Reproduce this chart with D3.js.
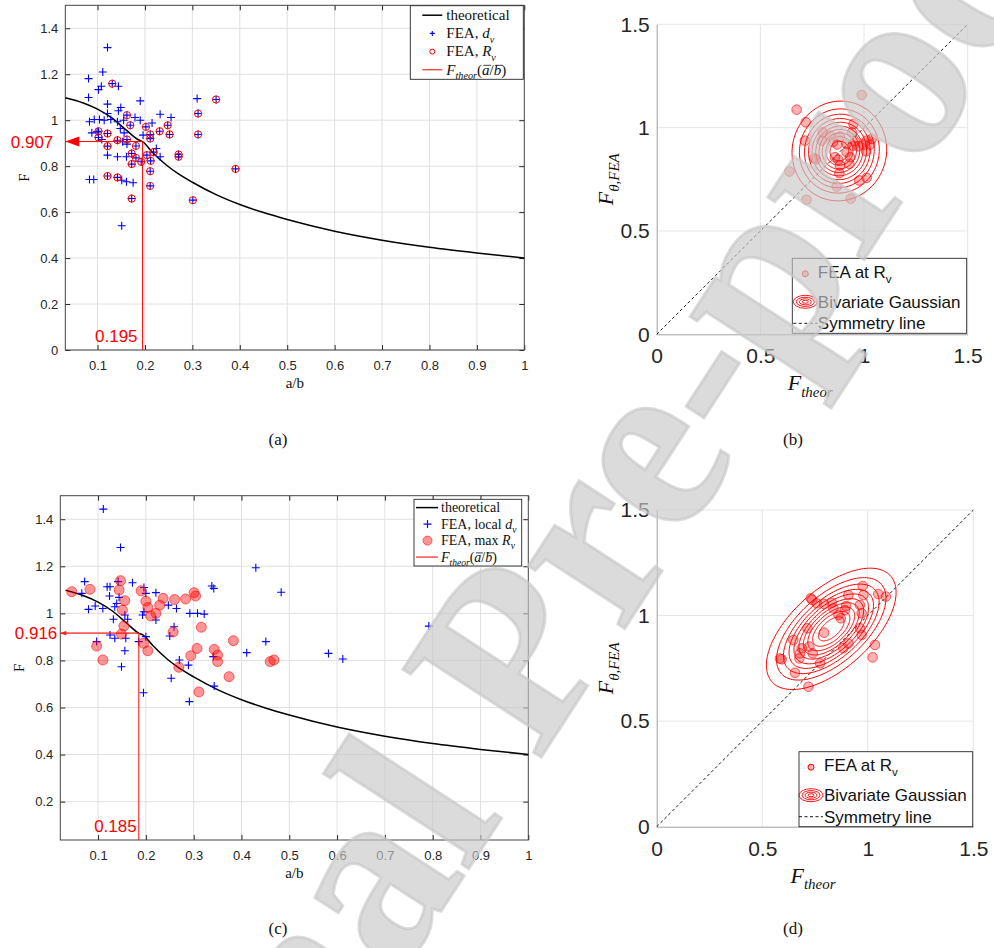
<!DOCTYPE html>
<html lang="en">
<head>
<meta charset="utf-8">
<title>F vs a/b, FEA vs theory</title>
<script src="https://d3js.org/d3.v7.min.js"></script>
<style>
    body { margin: 0; background: #fff; }
    svg { display: block; }
</style>
</head>
<body>
<svg id="fig" width="994" height="948"></svg>
<script>
    // theoretical curve F(a/b)
    const abTheor = [0.032, 0.07, 0.1, 0.13, 0.16, 0.185, 0.195, 0.215, 0.245, 0.27, 0.3, 0.35, 0.4, 0.45, 0.5, 0.6, 0.7, 0.8, 0.9, 1.0];
    const fTheor  = [1.098, 1.075, 1.048, 1.01, 0.958, 0.916, 0.907, 0.862, 0.805, 0.767, 0.73, 0.676, 0.633, 0.598, 0.568, 0.517, 0.478, 0.447, 0.422, 0.400];

    // panel (a): FEA at R_v (circles, also carry a d_v plus) and d_v only
    const aRv = [[0.131,1.159],[0.162,1.022],[0.169,0.978],[0.102,0.952],[0.102,0.925],[0.121,0.942],[0.142,0.913],[0.162,0.916],
        [0.121,0.887],[0.181,0.888],[0.172,0.855],[0.172,0.809],[0.181,0.836],[0.192,0.819],[0.202,0.971],[0.211,0.938],[0.211,0.920],
        [0.204,0.848],[0.212,0.823],[0.218,0.861],[0.211,0.778],[0.211,0.714],[0.231,0.952],[0.248,0.978],[0.252,0.938],[0.271,0.851],
        [0.271,0.841],[0.312,1.029],[0.312,0.938],[0.350,1.090],[0.301,0.652],[0.391,0.788],[0.121,0.757],[0.142,0.751],[0.172,0.659]];
    const aDv = [[0.121,1.316],[0.111,1.210],[0.081,1.181],[0.102,1.133],[0.108,1.148],[0.144,1.148],[0.081,1.099],[0.121,1.070],
        [0.149,1.055],[0.144,1.041],[0.121,1.029],[0.232,1.026],[0.255,1.012],[0.190,1.084],[0.310,1.094],[0.083,0.993],[0.093,1.003],
        [0.104,1.003],[0.114,1.000],[0.128,1.003],[0.142,0.993],[0.155,1.000],[0.179,1.012],[0.190,1.000],[0.215,0.988],[0.088,0.945],
        [0.099,0.949],[0.148,0.964],[0.156,0.945],[0.196,0.935],[0.109,0.916],[0.153,0.906],[0.162,0.896],[0.121,0.848],[0.142,0.841],
        [0.161,0.841],[0.224,0.877],[0.232,0.841],[0.083,0.742],[0.092,0.742],[0.151,0.739],[0.161,0.732],[0.175,0.728],[0.151,0.541]];
    const aMean = [0.195, 0.907];

    // panel (c): FEA local d_v and max R_v
    const cDv = [[0.111,1.443],[0.147,1.280],[0.072,1.135],[0.066,1.085],[0.080,1.017],[0.094,1.031],[0.110,1.021],[0.119,1.113],
        [0.125,1.113],[0.124,1.074],[0.135,1.028],[0.139,1.042],[0.144,1.068],[0.142,1.135],[0.132,0.975],[0.156,0.993],[0.162,0.975],
        [0.158,0.894],[0.156,0.841],[0.149,0.773],[0.135,0.894],[0.125,0.908],[0.097,0.880],[0.172,1.130],[0.196,1.110],[0.200,1.085],
        [0.193,0.993],[0.196,1.007],[0.200,0.901],[0.185,0.880],[0.195,0.663],[0.221,1.088],[0.221,0.972],[0.247,1.035],[0.264,1.021],
        [0.259,0.943],[0.250,0.904],[0.253,0.724],[0.270,0.802],[0.289,0.780],[0.291,0.625],[0.292,1.000],[0.308,1.000],[0.322,0.997],
        [0.338,1.116],[0.342,1.106],[0.341,0.816],[0.343,0.691],[0.411,0.833],[0.430,1.194],[0.451,0.880],[0.483,1.090],[0.582,0.830],
        [0.612,0.806],[0.792,0.946]];
    const cRv = [[0.045,1.092],[0.083,1.102],[0.147,1.139],[0.144,1.099],[0.156,1.054],[0.151,1.014],[0.154,0.946],[0.149,0.912],
        [0.097,0.861],[0.110,0.802],[0.190,1.096],[0.200,1.052],[0.204,1.025],[0.210,0.989],[0.221,1.000],[0.229,1.035],[0.236,1.064],
        [0.260,1.059],[0.283,1.061],[0.301,1.088],[0.304,1.074],[0.316,0.941],[0.195,0.873],[0.204,0.841],[0.257,0.921],[0.269,0.771],
        [0.294,0.820],[0.307,0.851],[0.311,0.666],[0.343,0.847],[0.350,0.823],[0.350,0.795],[0.374,0.731],[0.383,0.884],[0.460,0.795],
        [0.468,0.802]];
    const cMean = [0.185, 0.916];

    // panels (b), (d): F_theor vs F_FEA and fitted bivariate gaussian
    const bPts = [[0.989,1.158],[0.675,1.087],[0.719,1.026],[0.640,0.788],[0.723,0.651],[0.936,0.656],[0.868,0.715],[0.977,0.744],
        [1.013,0.757],[0.715,0.937],[0.768,0.846],[0.760,0.852],[0.801,0.977],[0.796,0.937],[0.836,0.961],[0.884,0.957],[0.871,0.918],
        [0.949,1.018],[0.941,0.977],[0.916,0.921],[0.949,0.913],[0.973,0.910],[0.997,0.918],[1.029,0.918],[1.037,0.945],[1.013,0.937],
        [1.010,0.886],[0.860,0.857],[0.876,0.844],[0.884,0.817],[0.881,0.780],[0.932,0.857],[0.929,0.825],[0.916,0.881],[0.955,0.935],
        [0.850,0.930]];
    const dPts = [[0.976,1.140],[0.979,1.097],[0.908,1.097],[1.050,1.102],[1.086,1.090],[0.730,1.082],[0.737,1.074],[0.758,1.058],
        [0.793,1.055],[0.829,1.061],[0.837,1.034],[0.897,1.045],[0.892,1.026],[0.963,1.050],[0.971,1.011],[0.861,1.003],[0.872,0.987],
        [0.793,0.919],[0.714,0.940],[0.963,0.940],[0.971,0.908],[0.647,0.884],[0.687,0.845],[0.723,0.853],[0.679,0.821],[0.676,0.797],
        [0.739,0.821],[0.584,0.797],[0.592,0.793],[0.774,0.774],[0.655,0.729],[0.719,0.663],[0.884,0.845],[0.908,0.868],[1.034,0.861],
        [1.023,0.802]];
    const bGauss = { mean: [0.881, 0.887], sigma: [0.104, 0.110], rho: 0.03 };
    const dGauss = { mean: [0.827, 0.937], sigma: [0.140, 0.131], rho: 0.60 };
    const gaussLevels = [0.09, 0.18, 0.27, 0.36, 0.45, 0.55, 0.64, 0.73, 0.82, 0.91]; // fraction of peak density

    const abTicks = [0.1, 0.2, 0.3, 0.4, 0.5, 0.6, 0.7, 0.8, 0.9, 1];
    const fTicksA = [0, 0.2, 0.4, 0.6, 0.8, 1, 1.2, 1.4];
    const fTicksC = [0.2, 0.4, 0.6, 0.8, 1, 1.2, 1.4];
    const sqTicks = [0, 0.5, 1, 1.5];

    const SANS = "'Liberation Sans', Arial, Helvetica, sans-serif";
    const SERIF = "'Liberation Serif', 'Times New Roman', serif";
    const INK = "#262626";
    const fmt = d3.format("~g");
    const svg = d3.select("#fig");

    // text with italic / subscript / overline pieces
    function richText(g, x, y, parts, size, family, anchor) {
        const t = g.append("text").attr("x", x).attr("y", y)
            .style("font-family", family).attr("font-size", size)
            .attr("fill", "#111").attr("text-anchor", anchor || "start");
        let shift = 0;
        const bars = [];
        parts.forEach(p => {
            const want = p.sub ? size * 0.3 : 0;
            const ts = t.append("tspan").text(p.t).attr("dy", want - shift);
            shift = want;
            if (p.sub) ts.attr("font-size", size * 0.68);
            if (p.it) ts.attr("font-style", "italic");
            if (p.over) bars.push(ts);
        });
        // bar over a letter, drawn as a short line just above x-height
        bars.forEach(ts => {
            const n = ts.node();
            const s = n.getStartPositionOfChar(0), e = n.getEndPositionOfChar(0);
            g.append("line").attr("x1", s.x + 1.5).attr("x2", e.x + 1.5)
                .attr("y1", s.y - size * 0.62).attr("y2", s.y - size * 0.62)
                .attr("stroke", "#111").attr("stroke-width", 0.8);
        });
        return t;
    }

    function plus(sel, x, y, data, arm, color) {
        sel.append("g").selectAll("path").data(data).join("path")
            .attr("d", d => `M${x(d[0]) - arm},${y(d[1])}H${x(d[0]) + arm}M${x(d[0])},${y(d[1]) - arm}V${y(d[1]) + arm}`)
            .attr("stroke", color).attr("stroke-width", 1.1).attr("fill", "none");
    }

    // ---------- ratio panels (a) and (c) ----------
    function ratioPanel(box, xDom, yDom, yTicks, dv, rv, mean, filled) {
        const x = d3.scaleLinear().domain(xDom).range([box.l, box.r]);
        const y = d3.scaleLinear().domain(yDom).range([box.b, box.t]);
        const g = svg.append("g");

        g.append("g").selectAll("line").data(abTicks.filter(v => v < 1)).join("line")
            .attr("x1", d => x(d)).attr("x2", d => x(d)).attr("y1", box.t).attr("y2", box.b)
            .attr("stroke", "#e0e0e0");
        g.append("g").selectAll("line").data(yTicks).join("line")
            .attr("x1", box.l).attr("x2", box.r).attr("y1", d => y(d)).attr("y2", d => y(d))
            .attr("stroke", "#e0e0e0");

        const styleAxis = a => { a.select(".domain").remove(); a.selectAll("line").attr("stroke", INK);
            a.selectAll("text").attr("fill", INK).style("font-family", SANS).attr("font-size", 13); };
        g.append("g").attr("transform", `translate(0,${box.b})`)
            .call(d3.axisBottom(x).tickValues(abTicks).tickFormat(fmt).tickSizeInner(-5).tickSizeOuter(0).tickPadding(11)).call(styleAxis);
        g.append("g").attr("transform", `translate(0,${box.t})`)
            .call(d3.axisTop(x).tickValues(abTicks).tickFormat("").tickSizeInner(-5).tickSizeOuter(0)).call(styleAxis);
        g.append("g").attr("transform", `translate(${box.l},0)`)
            .call(d3.axisLeft(y).tickValues(yTicks).tickFormat(fmt).tickSizeInner(-5).tickSizeOuter(0).tickPadding(7)).call(styleAxis);
        g.append("g").attr("transform", `translate(${box.r},0)`)
            .call(d3.axisRight(y).tickValues(yTicks).tickFormat("").tickSizeInner(-5).tickSizeOuter(0)).call(styleAxis);
        g.append("rect").attr("x", box.l).attr("y", box.t).attr("width", box.r - box.l).attr("height", box.b - box.t)
            .attr("fill", "none").attr("stroke", "#444").attr("stroke-width", 1);

        // theoretical curve
        g.append("path").datum(d3.zip(abTheor, fTheor))
            .attr("d", d3.line().x(d => x(d[0])).y(d => y(d[1])).curve(d3.curveMonotoneX))
            .attr("fill", "none").attr("stroke", "#000").attr("stroke-width", 1.5);

        // FEA points
        if (filled) {
            plus(g, x, y, dv, 4, "#0000ff");
            g.append("g").selectAll("circle").data(rv).join("circle")
                .attr("cx", d => x(d[0])).attr("cy", d => y(d[1])).attr("r", 5)
                .attr("fill", "#ff0000").attr("fill-opacity", 0.42)
                .attr("stroke", "#ff0000").attr("stroke-opacity", 0.55);
        } else {
            plus(g, x, y, dv.concat(rv), 4, "#0000ff");
            g.append("g").selectAll("circle").data(rv).join("circle")
                .attr("cx", d => x(d[0])).attr("cy", d => y(d[1])).attr("r", 3.6)
                .attr("fill", "none").attr("stroke", "#ff0000").attr("stroke-width", 1);
        }

        // mean a/b marker
        const red = g.append("g").attr("stroke", "#ff0000").attr("fill", "#ff0000")
            .attr("stroke-opacity", filled ? 0.65 : 1).attr("fill-opacity", filled ? 0.75 : 1);
        red.append("line").attr("x1", x(mean[0])).attr("x2", x(mean[0])).attr("y1", box.b).attr("y2", y(mean[1]))
            .attr("stroke-width", filled ? 1.6 : 1);
        red.append("line").attr("x1", box.l).attr("x2", x(mean[0])).attr("y1", y(mean[1])).attr("y2", y(mean[1]))
            .attr("stroke-width", filled ? 1.6 : 1);
        const ah = filled ? [6, 2.5] : [14, 5];
        red.append("path").attr("stroke", "none")
            .attr("d", `M${box.l},${y(mean[1])}L${box.l + ah[0]},${y(mean[1]) - ah[1]}L${box.l + ah[0]},${y(mean[1]) + ah[1]}Z`);
        g.append("text").attr("x", box.l - (filled ? 3 : 12)).attr("y", y(mean[1]) + 6).attr("text-anchor", "end")
            .style("font-family", SANS).attr("font-size", 17).attr("fill", "#ff0000").text(d3.format(".3f")(mean[1]));
        g.append("text").attr("x", x(mean[0]) - (filled ? 2 : 5)).attr("y", box.b - 8).attr("text-anchor", "end")
            .style("font-family", SANS).attr("font-size", 17).attr("fill", "#ff0000").text(d3.format(".3f")(mean[0]));

        // axis labels
        g.append("text").attr("x", (box.l + box.r) / 2).attr("y", box.b + 38).attr("text-anchor", "middle")
            .style("font-family", SERIF).attr("font-size", 15).attr("fill", "#111").text("a/b");
        g.append("text").attr("transform", `translate(${box.l - 36},${(box.t + box.b) / 2}) rotate(-90)`)
            .attr("text-anchor", "middle").style("font-family", SERIF).attr("font-size", 15).attr("fill", "#111").text("F");
        return g;
    }

    function ratioLegend(g, lg, rows, filled) {
        g.append("rect").attr("x", lg.x).attr("y", lg.y).attr("width", lg.w).attr("height", lg.h)
            .attr("fill", "#fff").attr("stroke", INK).attr("stroke-width", 0.9);
        const lx = lg.x + lg.lx, mx = lg.x + lg.mx, tx = lg.x + lg.tx;
        rows.forEach((r, i) => {
            const cy = lg.y + lg.r0 + i * lg.dy;
            if (i === 0) g.append("line").attr("x1", lx).attr("x2", lx + lg.len).attr("y1", cy).attr("y2", cy).attr("stroke", "#000").attr("stroke-width", 1.5);
            if (i === 1) { const a = filled ? 4 : 2.5; g.append("path").attr("d", `M${mx - a},${cy}H${mx + a}M${mx},${cy - a}V${cy + a}`).attr("stroke", "#0000ff").attr("stroke-width", 1.1); }
            if (i === 2) g.append("circle").attr("cx", mx).attr("cy", cy).attr("r", filled ? 4.5 : 2.5)
                .attr("fill", filled ? "#ff0000" : "none").attr("fill-opacity", 0.42).attr("stroke", "#ff0000").attr("stroke-opacity", filled ? 0.55 : 1);
            if (i === 3) g.append("line").attr("x1", lx).attr("x2", lx + lg.len).attr("y1", cy).attr("y2", cy).attr("stroke", "#ff0000")
                .attr("stroke-opacity", filled ? 0.65 : 1).attr("stroke-width", filled ? 1.6 : 1);
            richText(g, tx, cy + lg.size * 0.32, r, lg.size, SERIF);
        });
    }

    const fthParts = [{t: "F", it: true}, {t: "theor", it: true, sub: true}, {t: "("}, {t: "a", it: true, over: true}, {t: "/"}, {t: "b", it: true, over: true}, {t: ")"}];

    const gA = ratioPanel({l: 65.3, r: 524.3, t: 5.3, b: 350}, [0.032, 1], [0, 1.5], fTicksA, aDv, aRv, aMean, false);
    ratioLegend(gA, {x: 410.3, y: 5.7, w: 113, h: 73.6, r0: 9.5, dy: 18.2, lx: 12, len: 20, mx: 22, tx: 36, size: 15}, [
        [{t: "theoretical"}],
        [{t: "FEA, "}, {t: "d", it: true}, {t: "v", it: true, sub: true}],
        [{t: "FEA, "}, {t: "R", it: true}, {t: "v", it: true, sub: true}],
        fthParts], false);

    const gC = ratioPanel({l: 60.3, r: 528.3, t: 495.7, b: 840}, [0.021, 1], [0.037, 1.5], fTicksC, cDv, cRv, cMean, true);
    ratioLegend(gC, {x: 414, y: 499.3, w: 107.7, h: 66.7, r0: 8.3, dy: 16.5, lx: 2, len: 22, mx: 13.5, tx: 27, size: 14}, [
        [{t: "theoretical"}],
        [{t: "FEA, local "}, {t: "d", it: true}, {t: "v", it: true, sub: true}],
        [{t: "FEA, max "}, {t: "R", it: true}, {t: "v", it: true, sub: true}],
        fthParts], true);

    // ---------- comparison panels (b) and (d) ----------
    function ellipse(gs, r) {
        const c = Math.sqrt(1 - gs.rho * gs.rho);
        return d3.range(0, 145).map(i => {
            const t = i / 144 * 2 * Math.PI;
            return [gs.mean[0] + r * gs.sigma[0] * Math.cos(t),
                    gs.mean[1] + r * gs.sigma[1] * (gs.rho * Math.cos(t) + c * Math.sin(t))];
        });
    }

    function comparePanel(box, pts, gs, lg) {
        const x = d3.scaleLinear().domain([0, 1.5]).range([box.l, box.r]);
        const y = d3.scaleLinear().domain([0, 1.5]).range([box.b, box.t]);
        const g = svg.append("g");

        g.append("g").selectAll("line").data(sqTicks.slice(1)).join("line")
            .attr("x1", d => x(d)).attr("x2", d => x(d)).attr("y1", box.t).attr("y2", box.b).attr("stroke", "#e6e6e6");
        g.append("g").selectAll("line").data(sqTicks.slice(1)).join("line")
            .attr("x1", box.l).attr("x2", box.r).attr("y1", d => y(d)).attr("y2", d => y(d)).attr("stroke", "#e6e6e6");

        const styleAxis = a => { a.select(".domain").attr("stroke", "#a0a0a0"); a.selectAll(".tick line").remove();
            a.selectAll("text").attr("fill", INK).style("font-family", SANS).attr("font-size", 21); };
        g.append("g").attr("transform", `translate(0,${box.b})`)
            .call(d3.axisBottom(x).tickValues(sqTicks).tickFormat(fmt).tickSize(0).tickPadding(14)).call(styleAxis);
        g.append("g").attr("transform", `translate(${box.l},0)`)
            .call(d3.axisLeft(y).tickValues(sqTicks).tickFormat(fmt).tickSize(0).tickPadding(7)).call(styleAxis);

        // symmetry line
        g.append("path").datum([[0, 0], [1.5, 1.5]])
            .attr("d", d3.line().x(d => x(d[0])).y(d => y(d[1])))
            .attr("stroke", "#000").attr("stroke-dasharray", "3,2.5").attr("stroke-width", 0.9).attr("fill", "none");

        // gaussian contours
        const line = d3.line().x(d => x(d[0])).y(d => y(d[1]));
        g.append("g").selectAll("path").data(gaussLevels).join("path")
            .attr("d", L => line(ellipse(gs, Math.sqrt(-2 * Math.log(L)))))
            .attr("fill", "none").attr("stroke", "#ff0000").attr("stroke-width", 1);

        g.append("g").selectAll("circle").data(pts).join("circle")
            .attr("cx", d => x(d[0])).attr("cy", d => y(d[1])).attr("r", 4.8)
            .attr("fill", "#ff0000").attr("fill-opacity", 0.3)
            .attr("stroke", "#ff0000").attr("stroke-opacity", 0.6);

        // labels
        richText(g, (box.l + box.r) / 2 - 2, box.b + 56, [{t: "F", it: true}, {t: "theor", it: true, sub: true}], 22, SERIF, "middle");
        const yl = g.append("g").attr("transform", `translate(${box.l - 44},${(box.t + box.b) / 2}) rotate(-90)`);
        richText(yl, 0, 0, [{t: "F", it: true}, {t: "θ,FEA", it: true, sub: true}], 22, SERIF, "middle");

        // legend
        g.append("rect").attr("x", lg.x).attr("y", lg.y).attr("width", lg.w).attr("height", lg.h)
            .attr("fill", "#fff").attr("stroke", INK).attr("stroke-width", 0.9);
        const ix = lg.x + lg.ix, tx = lg.x + lg.tx;
        const r1 = lg.y + lg.rows[0], r2 = lg.y + lg.rows[1], r3 = lg.y + lg.rows[2];
        g.append("circle").attr("cx", ix).attr("cy", r1 + 2).attr("r", 3)
            .attr("fill", "#ff0000").attr("fill-opacity", 0.3).attr("stroke", "#ff0000");
        [[12, 6.5], [9, 4.6], [6, 3], [3, 1.5]].forEach(e => g.append("ellipse").attr("cx", ix).attr("cy", r2)
            .attr("rx", e[0]).attr("ry", e[1]).attr("fill", "none").attr("stroke", "#ff0000").attr("stroke-width", 0.9));
        g.append("line").attr("x1", ix - 12).attr("x2", ix + 12).attr("y1", r3).attr("y2", r3)
            .attr("stroke", "#000").attr("stroke-dasharray", "3,2.5").attr("stroke-width", 0.9);
        richText(g, tx, r1 + 6, [{t: "FEA at R"}, {t: "v", sub: true}], 17, SANS);
        richText(g, tx, r2 + 6, [{t: "Bivariate Gaussian"}], 17, SANS);
        richText(g, tx, r3 + 6, [{t: "Symmetry line"}], 17, SANS);
    }

    comparePanel({l: 656.7, r: 967.7, t: 24.3, b: 334.3}, bPts, bGauss,
        {x: 792.3, y: 258.3, w: 174.4, h: 75, ix: 13, tx: 25.5, rows: [13.5, 43.5, 65]});
    comparePanel({l: 656.7, r: 973.3, t: 510, b: 826.7}, dPts, dGauss,
        {x: 799, y: 751.7, w: 173.7, h: 75, ix: 12, tx: 25, rows: [13.5, 43.5, 65]});

    // captions
    [["(a)", 278, 445], ["(b)", 793, 445], ["(c)", 278, 934], ["(d)", 793, 934]].forEach(c =>
        svg.append("text").attr("x", c[1]).attr("y", c[2]).attr("text-anchor", "middle")
            .style("font-family", SERIF).attr("font-size", 17).attr("fill", "#111").text(c[0]));

    // watermark
    svg.append("text").attr("transform", "translate(575,705) rotate(-57)")
        .attr("text-anchor", "middle").style("font-family", SERIF).attr("font-weight", "bold")
        .attr("font-size", 250).attr("fill", "#c8c8c8").attr("fill-opacity", 0.65)
        .attr("stroke", "#c8c8c8").attr("stroke-opacity", 0.65).attr("stroke-width", 3)
        .text("Journal Pre-proof");
</script>
</body>
</html>
